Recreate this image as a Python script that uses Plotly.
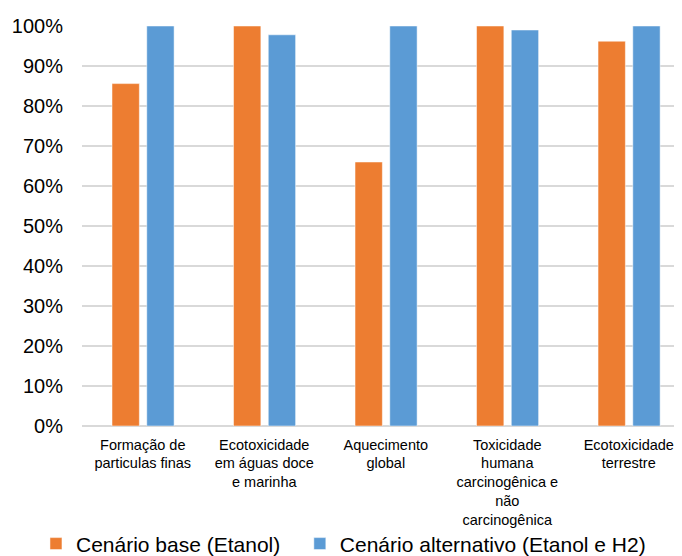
import plotly.graph_objects as go

categories = ["Formação de particulas finas", "Ecotoxicidade em águas doce e marinha",
              "Aquecimento global", "Toxicidade humana carcinogênica e não carcinogênica",
              "Ecotoxicidade terrestre"]
tick_labels = ["Formação de<br>particulas finas", "Ecotoxicidade<br>em águas doce<br>e marinha",
               "Aquecimento<br>global", "Toxicidade<br>humana<br>carcinogênica e<br>não<br>carcinogênica",
               "Ecotoxicidade<br>terrestre"]
base_values = [0.856, 1.00, 0.660, 1.00, 0.962]
alt_values = [1.00, 0.978, 1.00, 0.990, 1.00]
series_names = ["Cenário base (Etanol)", "Cenário alternativo (Etanol e H2)"]
y_ticks = [0, 0.1, 0.2, 0.3, 0.4, 0.5, 0.6, 0.7, 0.8, 0.9, 1.0]

FONT = "Liberation Sans, Arial, sans-serif"

fig = go.Figure()
fig.add_trace(go.Bar(x=categories, y=base_values, name=series_names[0],
                     marker=dict(color="#ED7D31", line=dict(color="#ffffff", width=0.5)),
                     width=0.225, offset=-0.253, legend="legend", showlegend=True))
fig.add_trace(go.Bar(x=categories, y=alt_values, name=series_names[1],
                     marker=dict(color="#5B9BD5", line=dict(color="#ffffff", width=0.5)),
                     width=0.225, offset=0.033, legend="legend2", showlegend=True))

fig.update_layout(
    width=674, height=548,
    margin=dict(l=74, r=0, t=17.5, b=129.5, autoexpand=False),
    paper_bgcolor="white", plot_bgcolor="white",
    font=dict(family=FONT, color="#000000"),
    barmode="group",
    showlegend=True,
    legend=dict(orientation="h", xref="container", yref="container",
                x=0.0415, xanchor="left", y=0.022, yanchor="middle",
                font=dict(size=21, family=FONT), bgcolor="rgba(0,0,0,0)"),
    legend2=dict(orientation="h", xref="container", yref="container",
                 x=0.433, xanchor="left", y=0.022, yanchor="middle",
                 font=dict(size=21, family=FONT), bgcolor="rgba(0,0,0,0)"),
    xaxis=dict(tickmode="array", tickvals=categories, ticktext=tick_labels,
               range=[-0.5, 4.438], showgrid=False, showline=False, ticks="",
               ticklabelstandoff=8,
               tickfont=dict(size=14.5, family=FONT), fixedrange=True, automargin=False),
    yaxis=dict(range=[0, 1.0], tickvals=y_ticks, tickformat=".0%",
               showgrid=True, gridcolor="#d9d9d9", gridwidth=1.5,
               zeroline=True, zerolinecolor="#d9d9d9", zerolinewidth=1.5,
               showline=False, ticks="", ticklabelstandoff=18, automargin=False,
               tickfont=dict(size=20, family=FONT)),
)

fig.write_html("out.html")
